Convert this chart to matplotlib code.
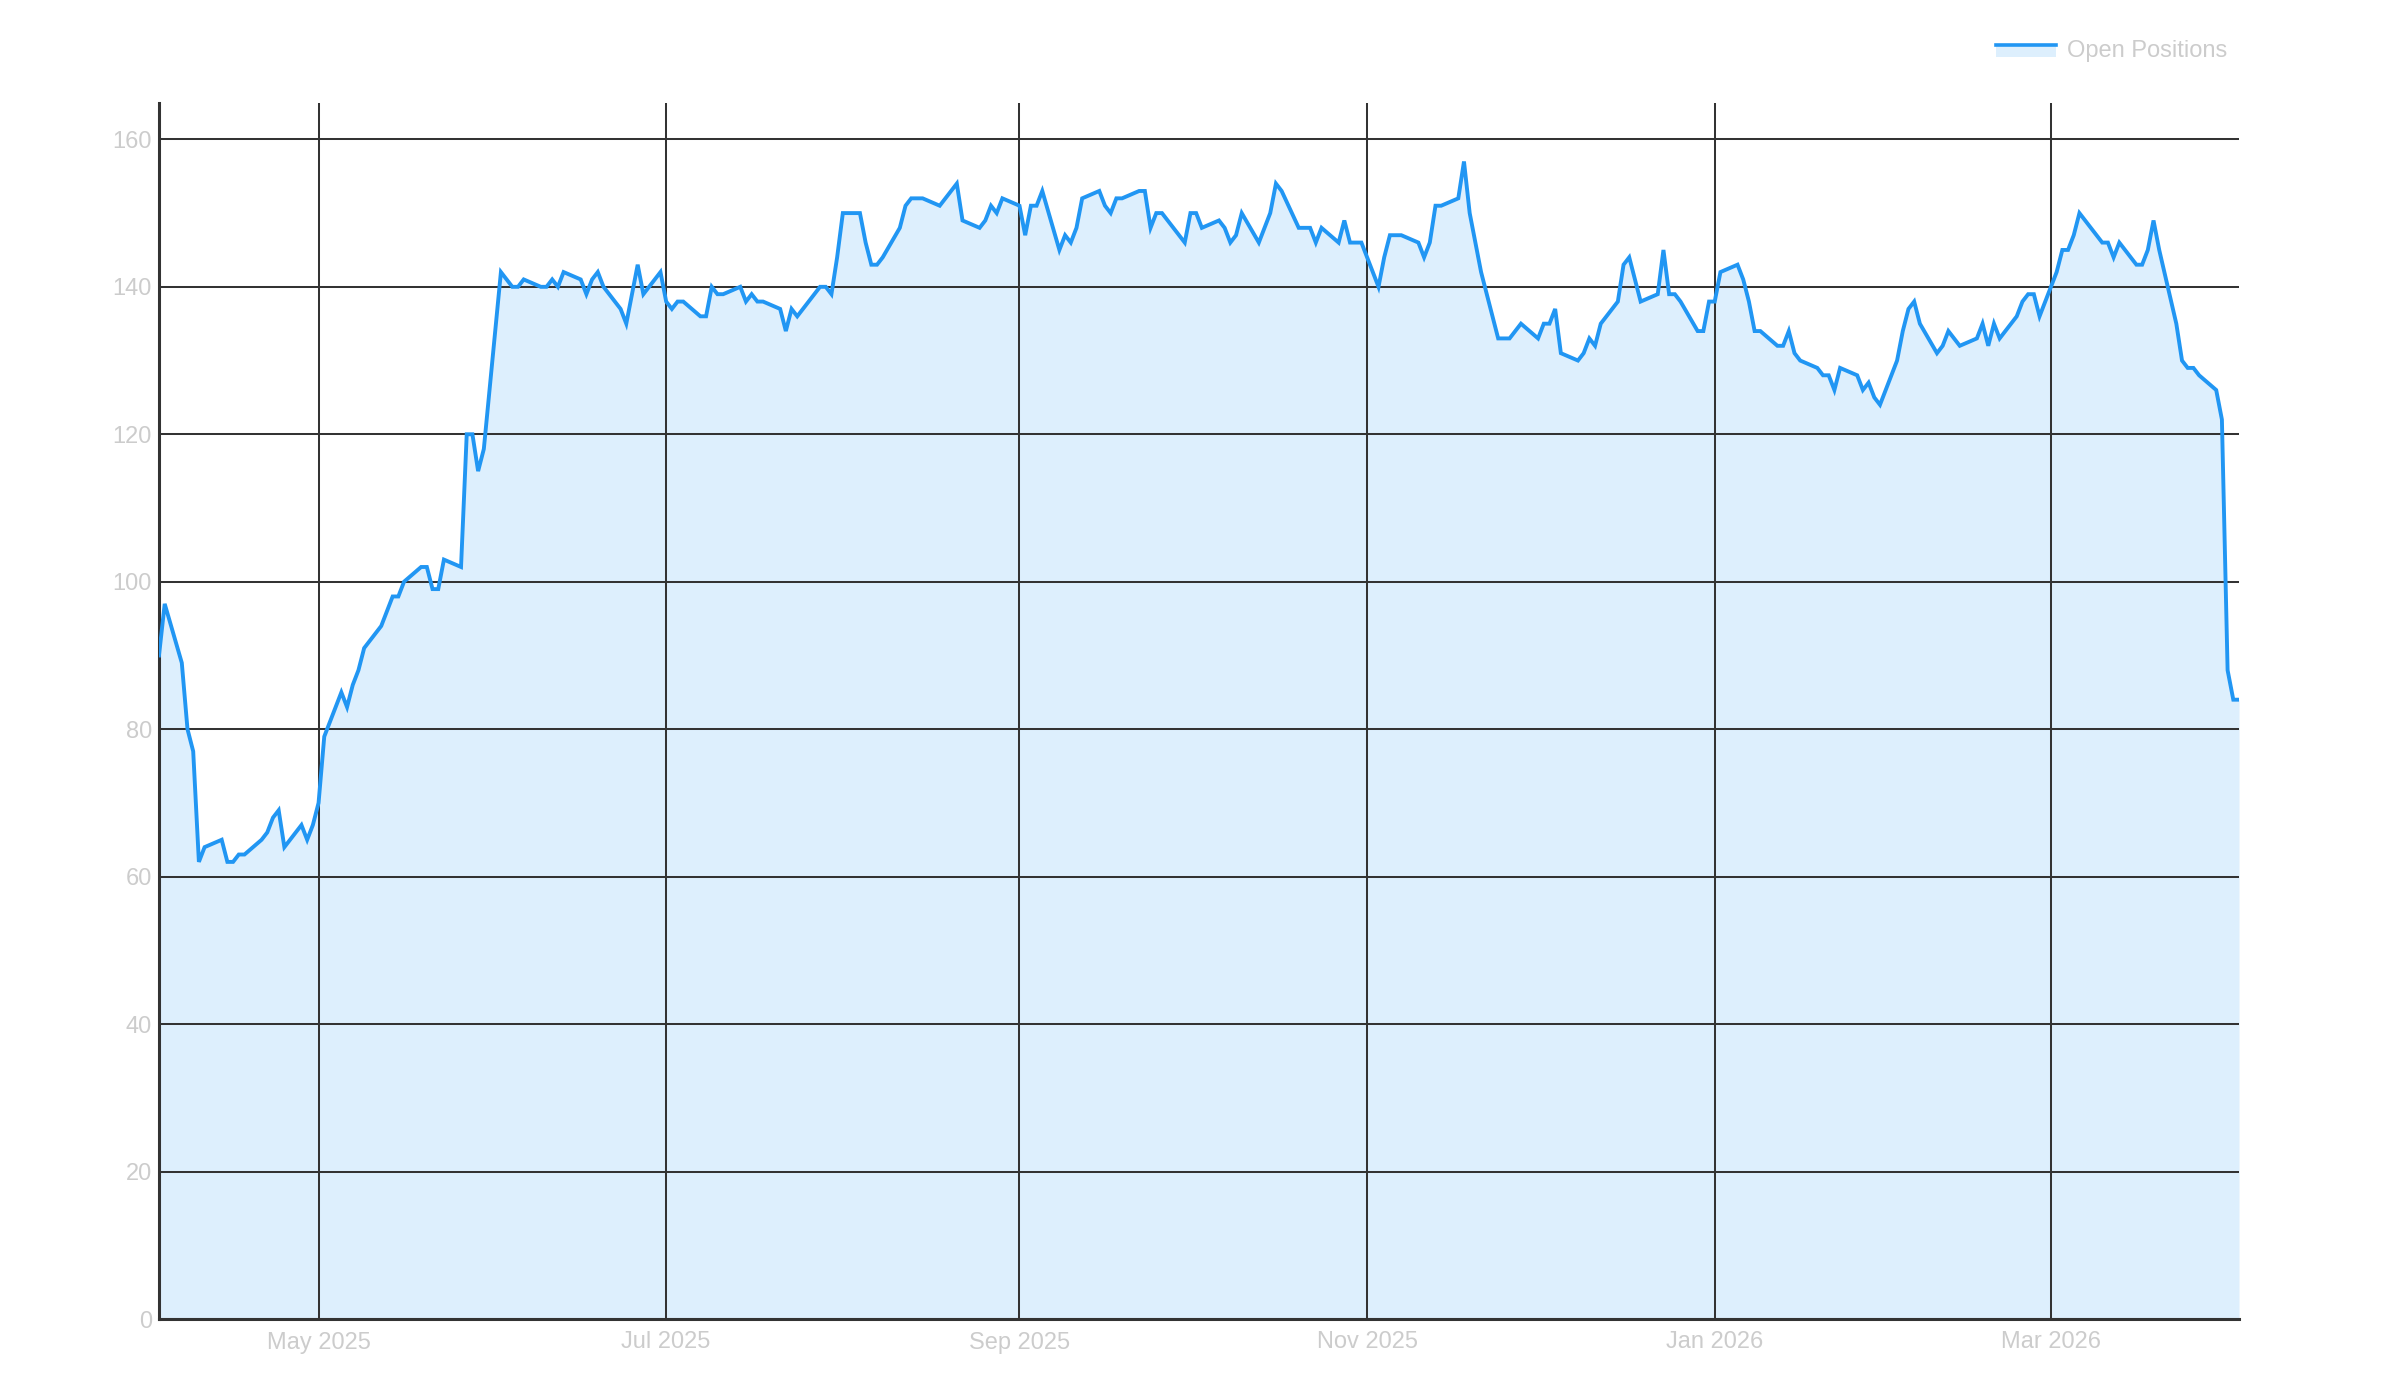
import matplotlib
matplotlib.use("Agg")
import matplotlib.pyplot as plt
import matplotlib.dates as mdates
from matplotlib.patches import Rectangle
from matplotlib.lines import Line2D
import pandas as pd

plt.rcParams['font.family'] = ['Liberation Sans', 'DejaVu Sans']

# ---- data (business days, 2025-04-03 .. 2026-04-03) ----
start_date = '2025-04-03'
end_date = '2026-04-03'
apr25 = [90, 97, 89, 80, 77, 62, 64, 65, 62, 62, 63, 63, 65, 66, 68, 69, 64, 67, 65, 67]
may25 = [70, 79, 85, 83, 86, 88, 91, 94, 96, 98, 98, 100, 102, 102, 99, 99, 103,
         102, 120, 120, 115, 118]
jun25 = [142, 141, 140, 140, 141, 140, 140, 141, 140, 142, 141, 139, 141, 142, 140,
         137, 135, 139, 143, 139, 142]
jul25 = [138, 137, 138, 138, 136, 136, 140, 139, 139, 140, 138, 139, 138, 138,
         137, 134, 137, 136, 137, 140, 140, 139, 144]
aug25 = [150, 150, 146, 143, 143, 144, 148, 151, 152, 152, 152, 151, 152, 153, 154,
         149, 148, 149, 151, 150, 152]
sep25 = [151, 147, 151, 151, 153, 145, 147, 146, 148, 152, 153, 151, 150, 152, 152,
         153, 153, 148, 150, 150, 147, 146]
oct25 = [150, 150, 148, 149, 148, 146, 147, 150, 146, 148, 150, 154, 153,
         148, 148, 148, 146, 148, 146, 149, 146, 146, 146]
nov25 = [140, 144, 147, 147, 147, 146, 144, 146, 151, 151, 152, 157, 150, 146, 142,
         133, 133, 133, 134, 135]
dec25 = [133, 135, 135, 137, 131, 130, 131, 133, 132, 135, 138, 143, 144, 141, 138,
         139, 145, 139, 139, 138, 134, 134, 138]
jan26 = [138, 142, 143, 141, 138, 134, 134, 132, 132, 134, 131, 130, 129, 128, 128,
         126, 129, 128, 126, 127, 125, 124]
feb26 = [130, 134, 137, 138, 135, 131, 132, 134, 133, 132, 133, 135, 132, 135, 133,
         136, 138, 139, 139, 136]
mar26 = [142, 145, 145, 147, 150, 147, 146, 146, 144, 146, 143, 143, 145, 149, 145,
         135, 130, 129, 129, 128, 126, 122]
apr26 = [88, 84, 84]

open_positions = (apr25 + may25 + jun25 + jul25 + aug25 + sep25 + oct25 + nov25 +
                  dec25 + jan26 + feb26 + mar26 + apr26)
dates = pd.bdate_range(start_date, end_date)

series_label = 'Open Positions'
y_ticks = [0, 20, 40, 60, 80, 100, 120, 140, 160]

# ---- styling ----
LINE = '#2196f3'
FILL = '#ddeffd'
GRID = '#333333'
TXT = '#cccccc'
W, H = 2400, 1400

fig = plt.figure(figsize=(24, 14), dpi=100)
left, right, bottom, top = 159, 2239, 1319, 102.5
ax = fig.add_axes([left / W, 1 - bottom / H, (right - left) / W, (bottom - top) / H])

ax.fill_between(dates, open_positions, 0, color=FILL, linewidth=0, zorder=1)
ax.plot(dates, open_positions, color=LINE, lw=2.8, zorder=3, solid_joinstyle='miter')

ax.set_xlim(pd.Timestamp(start_date), pd.Timestamp(end_date))
ax.set_ylim(0, 165)
ax.set_yticks(y_ticks)
ax.xaxis.set_major_locator(mdates.MonthLocator(bymonth=[1, 3, 5, 7, 9, 11]))
ax.xaxis.set_major_formatter(mdates.DateFormatter('%b %Y'))

ax.set_axisbelow(False)
ax.grid(True, color=GRID, lw=1.45)
for s in ['top', 'right']:
    ax.spines[s].set_visible(False)
for s in ['left', 'bottom']:
    ax.spines[s].set_color(GRID)
    ax.spines[s].set_linewidth(2.2)

ax.tick_params(axis='both', length=0, labelsize=17, labelcolor=TXT)
ax.tick_params(axis='y', pad=5)
ax.tick_params(axis='x', pad=9)

# ---- legend (top right) ----
hx0, hx1 = 1996, 2056
fig.patches.append(Rectangle((hx0 / W, 1 - 57 / H), (hx1 - hx0) / W, (57 - 44) / H,
                             transform=fig.transFigure, facecolor=FILL, edgecolor='none'))
fig.lines.append(Line2D([hx0 / W, hx1 / W], [1 - 45 / H, 1 - 45 / H],
                        transform=fig.transFigure, color=LINE, lw=2.6))
fig.text(2067 / W, 1 - 51.5 / H, series_label, color=TXT, fontsize=17,
         ha='left', va='center')

fig.savefig('out.png', dpi=100)
